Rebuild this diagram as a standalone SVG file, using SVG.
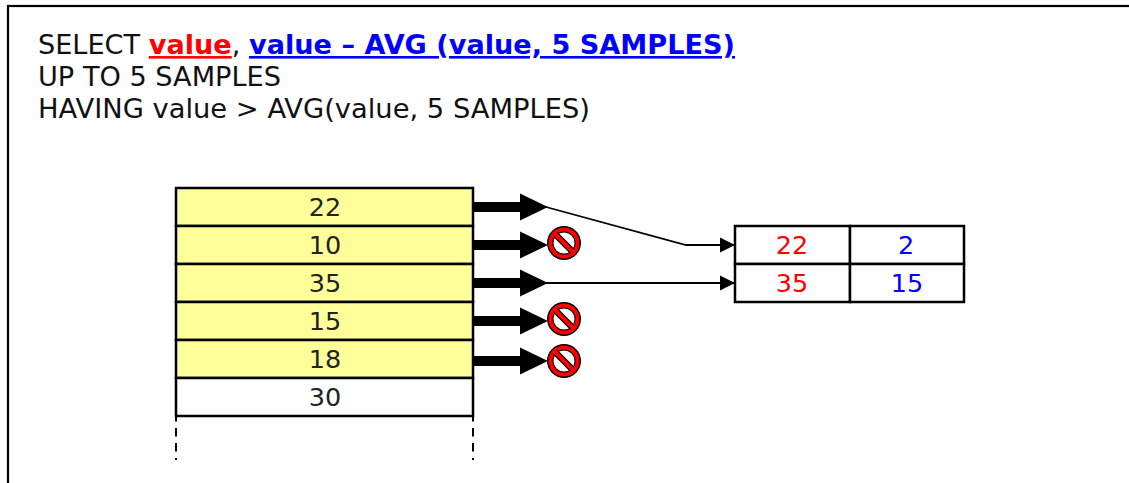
<svg xmlns="http://www.w3.org/2000/svg" width="1129" height="483" viewBox="0 0 1129 483">
<style>
text{font-family:"DejaVu Sans","Liberation Sans",sans-serif}
.q{font-size:26px;fill:#111}
.u{font-weight:bold;text-decoration:underline;text-decoration-thickness:3px;text-underline-offset:3px}
.c{font-size:25.500px;text-anchor:middle;fill:#222}
.r{fill:#f00}.b{fill:#00f}
.y{fill:#ffff99;stroke:#000;stroke-width:2.500}
.w{fill:#fff;stroke:#000;stroke-width:2.500}
.thin{fill:none;stroke:#000;stroke-width:1.800}
.d{stroke:#000;stroke-width:2;stroke-dasharray:8.500 6.500;fill:none}
</style>
<defs>
<marker id="a" markerUnits="userSpaceOnUse" markerWidth="16" markerHeight="16" refX="15" refY="8" orient="auto"><path d="M0 0.500L15 8L0 15.500Z"/></marker>
<path id="big" d="M473 -5H520V-13.500L548 0L520 13.500V5H473Z"/>
<g id="no"><circle r="17"/><circle r="15.500" fill="#f00"/><circle r="11.500"/><circle r="10.500" fill="#fff"/><path d="M-8.500-8.500L8.500 8.500" stroke="#000" stroke-width="6.500"/><path d="M-11-11L11 11" stroke="#f00" stroke-width="4"/></g>
</defs>
<rect x="8" y="6" width="1130" height="490" fill="#fff" stroke="#000" stroke-width="2.200"/>
<g id="query">
<text class="q" x="38" y="54" textLength="697" lengthAdjust="spacingAndGlyphs">SELECT <tspan class="r u">value</tspan>, <tspan class="b u">value – AVG (value, 5 SAMPLES)</tspan></text>
<text class="q" x="38" y="86" textLength="243" lengthAdjust="spacingAndGlyphs">UP TO 5 SAMPLES</text>
<text class="q" x="38" y="118" textLength="552" lengthAdjust="spacingAndGlyphs">HAVING value &gt; AVG(value, 5 SAMPLES)</text>
</g>
<g id="rows">
<g id="row22"><rect class="y" x="176" y="188" width="297" height="38"/><text class="c" x="325" y="215.500">22</text></g>
<g id="row10"><rect class="y" x="176" y="226" width="297" height="38"/><text class="c" x="325" y="253.500">10</text></g>
<g id="row35"><rect class="y" x="176" y="264" width="297" height="38"/><text class="c" x="325" y="291.500">35</text></g>
<g id="row15"><rect class="y" x="176" y="302" width="297" height="38"/><text class="c" x="325" y="329.500">15</text></g>
<g id="row18"><rect class="y" x="176" y="340" width="297" height="38"/><text class="c" x="325" y="367.500">18</text></g>
<g id="row30"><rect class="w" x="176" y="378" width="297" height="38"/><text class="c" x="325" y="405.500">30</text></g>
</g>
<g id="result">
<g id="r1a"><rect class="w" x="735" y="226" width="115" height="38"/><text class="c r" x="792" y="254">22</text></g>
<g id="r1b"><rect class="w" x="850" y="226" width="114" height="38"/><text class="c b" x="906" y="254">2</text></g>
<g id="r2a"><rect class="w" x="735" y="264" width="115" height="38"/><text class="c r" x="792" y="292">35</text></g>
<g id="r2b"><rect class="w" x="850" y="264" width="114" height="38"/><text class="c b" x="907" y="292">15</text></g>
</g>
<g id="connectors">
<use href="#big" y="207"/><use href="#big" y="245"/><use href="#big" y="283"/><use href="#big" y="321"/><use href="#big" y="361"/>
<path class="thin" d="M546 207L686 245H735" marker-end="url(#a)"/>
<path class="thin" d="M546 283H735" marker-end="url(#a)"/>
<path class="d" d="M176 413V460M473 413V460"/>
</g>
<g id="rejects">
<use href="#no" x="564" y="243"/><use href="#no" x="564" y="319"/><use href="#no" x="564" y="361"/>
</g>
</svg>
